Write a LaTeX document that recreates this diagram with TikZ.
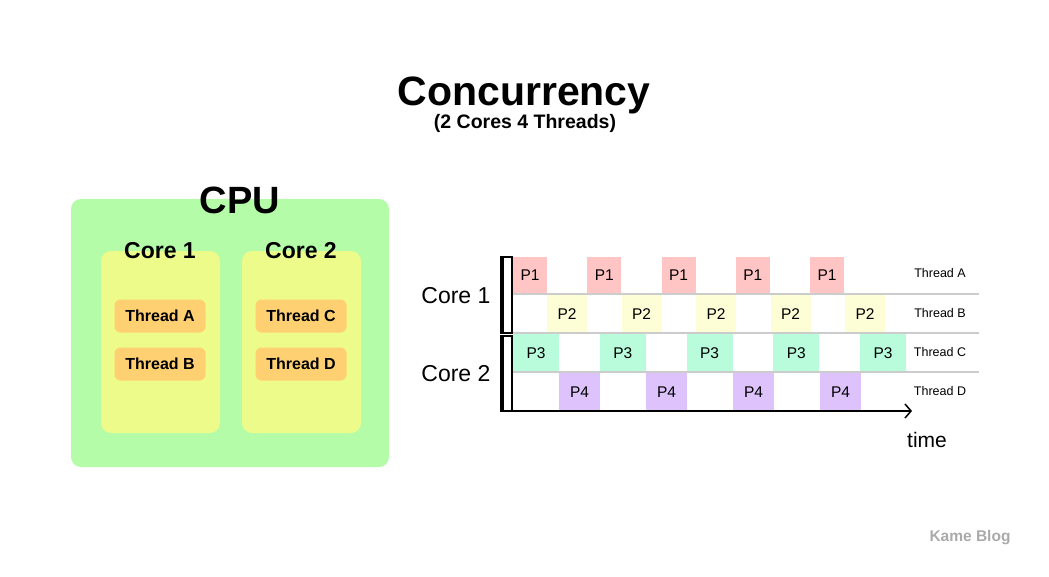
\documentclass[tikz,border=0pt]{standalone}
\usepackage{fontspec}
\setmainfont{Liberation Sans}
\usetikzlibrary{arrows.meta}

\definecolor{cpugreen}{HTML}{B4FCA8}
\definecolor{coreyellow}{HTML}{EDFB8A}
\definecolor{throrange}{HTML}{FFD072}
\definecolor{pa}{HTML}{FFC4C4}
\definecolor{pb}{HTML}{FDFDD6}
\definecolor{pc}{HTML}{B8FCDC}
\definecolor{pd}{HTML}{DEC2FC}
\definecolor{sepgray}{HTML}{CCCCCC}
\definecolor{markgray}{HTML}{AAAAAA}

\begin{document}
\begin{tikzpicture}[
  x=1pt, y=-1pt,
  title/.style={font=\bfseries\fontsize{41}{44}\selectfont},
  subtitle/.style={font=\bfseries\fontsize{19.5}{22}\selectfont},
  cpubox/.style={fill=cpugreen, rounded corners=10pt, inner sep=0pt, outer sep=0pt, anchor=north west},
  corebox/.style={fill=coreyellow, rounded corners=10pt, inner sep=0pt, outer sep=0pt, anchor=north west, minimum width=119, minimum height=182},
  thr/.style={fill=throrange, rounded corners=6pt, inner sep=0pt, minimum width=91, minimum height=33, font=\bfseries\fontsize{16}{18}\selectfont},
  pblk/.style={inner sep=0pt, outer sep=0pt, anchor=north west, font=\fontsize{15.5}{18}\selectfont},
  brk/.style={draw, line width=1.2pt, inner sep=0pt, outer sep=0pt, anchor=north west, minimum width=11, minimum height=76},
  sep/.style={sepgray, line width=1.2pt},
  lbl/.style={font=\fontsize{12.5}{14}\selectfont}
]
\useasboundingbox (0,0) rectangle (1049,576);

% heading
\node[title] (head) at (524,95) {Concurrency};
\node[subtitle] (sub) at (525,123) {(2 Cores 4 Threads)};

% cpu with two cores
\node[cpubox, minimum width=318, minimum height=268] (cpu) at (71,199) {};
\node[font=\bfseries\fontsize{38}{42}\selectfont] (cpul) at (240,200) {CPU};
\node[corebox] (c1) at (101,251) {};
\node[corebox] (c2) at (242,251) {};
\node[font=\bfseries\fontsize{23}{26}\selectfont] (c1l) at (160,251) {Core 1};
\node[font=\bfseries\fontsize{23}{26}\selectfont] (c2l) at (301,251) {Core 2};
\node[thr] (ta) at (160,316) {Thread A};
\node[thr] (tb) at (160,364) {Thread B};
\node[thr] (tc) at (301,316) {Thread C};
\node[thr] (td) at (301,364) {Thread D};

% time slots
\foreach \i in {0,...,4}
  \node[pblk, fill=pa, minimum width=34, minimum height=37] (p1-\i) at ({513+74.25*\i},257) {P1};
\foreach \i in {0,...,4}
  \node[pblk, fill=pb, minimum width=40, minimum height=38] (p2-\i) at ({547+74.5*\i},295) {P2};
\foreach \i in {0,...,4}
  \node[pblk, fill=pc, minimum width=46, minimum height=38] (p3-\i) at ({513+86.75*\i},334) {P3};
\foreach \i in {0,...,3}
  \node[pblk, fill=pd, minimum width=41, minimum height=38] (p4-\i) at ({559+87*\i},373) {P4};

\draw[sep] (512,294) -- (979,294);
\draw[sep] (512,333) -- (979,333);
\draw[sep] (512,372) -- (979,372);

% core brackets
\node[brk] (b1) at (501,257) {};
\node[brk, minimum height=75] (b2) at (501,336) {};
\draw[line width=3pt] ([xshift=1.5pt]b1.north west) -- ([xshift=1.5pt]b1.south west);
\draw[line width=3pt] ([xshift=1.5pt]b2.north west) -- ([xshift=1.5pt]b2.south west);
\node[font=\fontsize{23}{26}\selectfont, anchor=east] (k1) at (494,296) {Core 1};
\node[font=\fontsize{23}{26}\selectfont, anchor=east] (k2) at (494,374) {Core 2};

% time axis
\coordinate (orig) at (512,411);
\coordinate (tend) at (912,411);
\draw[line width=1.5pt, -{Straight Barb[length=6pt, width=14pt]}] (orig) -- (tend);
\node[font=\fontsize{21}{24}\selectfont] (time) at (927,440) {time};

\node[lbl] (la) at (940,273) {Thread A};
\node[lbl] (lb) at (940,313) {Thread B};
\node[lbl] (lc) at (940,352) {Thread C};
\node[lbl] (ld) at (940,391) {Thread D};

\node[markgray, font=\bfseries\fontsize{15.5}{18}\selectfont] (mark) at (970,538) {Kame Blog};
\end{tikzpicture}
\end{document}
